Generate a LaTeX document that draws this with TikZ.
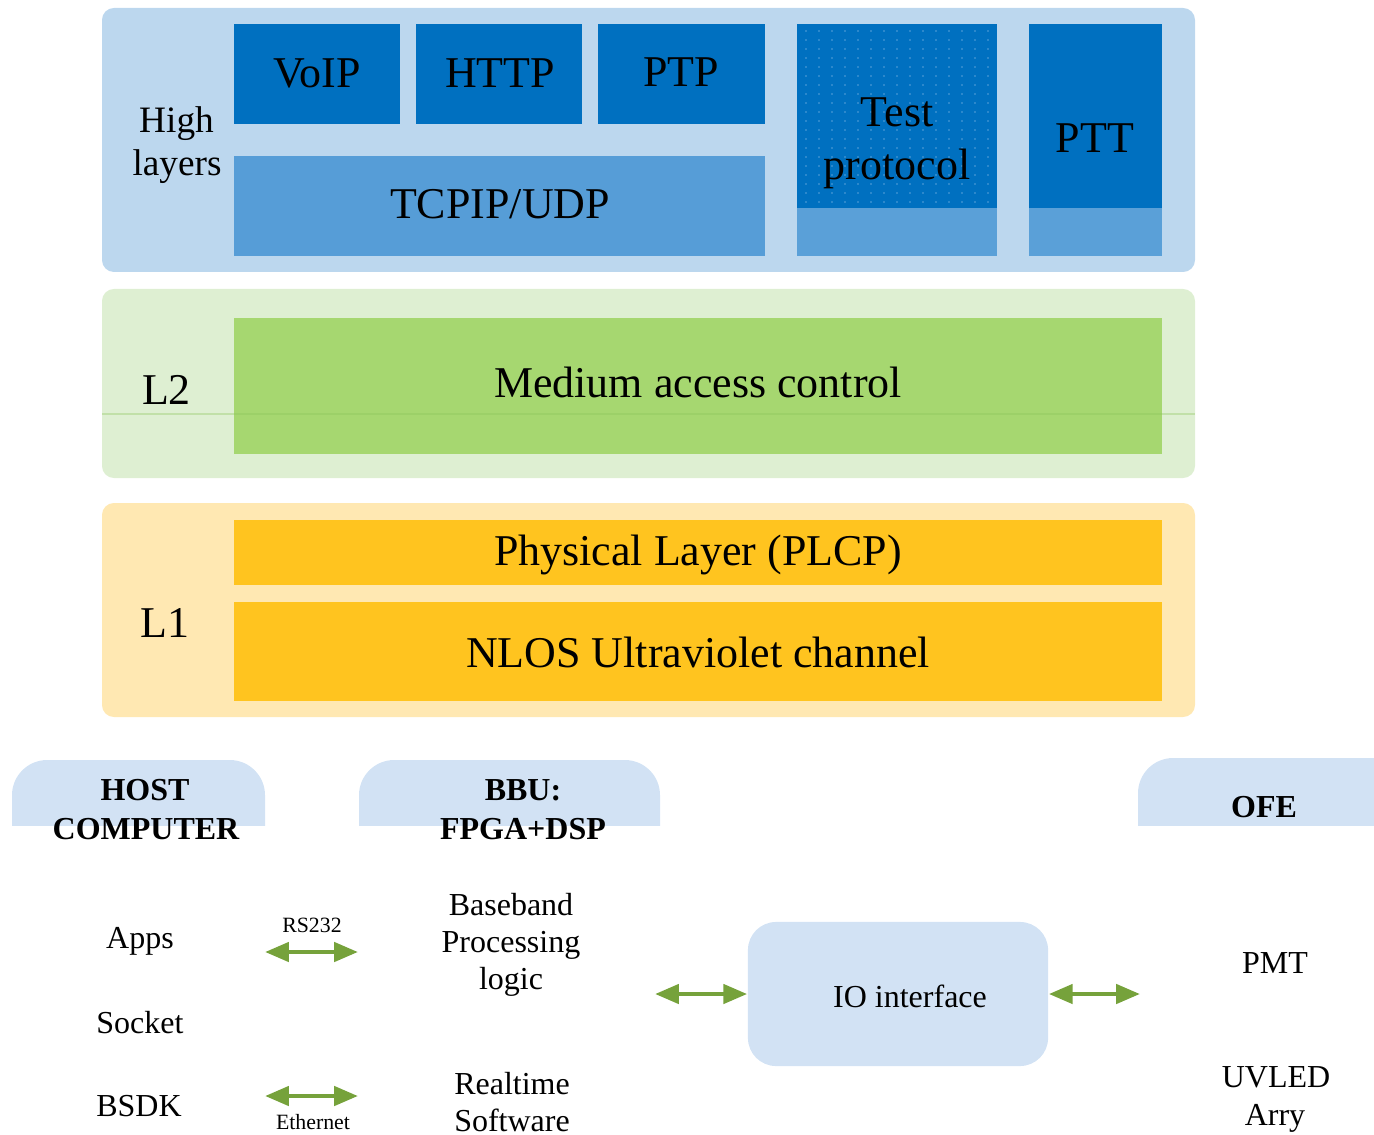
\documentclass[tikz,border=0pt]{standalone}
\usepackage{fontspec}
\setmainfont{Liberation Serif}
\usetikzlibrary{arrows.meta}

\definecolor{hiback}{HTML}{BCD7EE}
\definecolor{dblue}{HTML}{0070C0}
\definecolor{mblue}{HTML}{569DD7}
\definecolor{lband}{HTML}{5AA0D8}
\definecolor{dotblue}{HTML}{6FAEE0}
\definecolor{ltwoback}{HTML}{DEEFD2}
\definecolor{ltwoline}{HTML}{8CC55A}
\definecolor{macgreen}{HTML}{A6D770}
\definecolor{loneback}{HTML}{FFE8B2}
\definecolor{phyorange}{HTML}{FFC41F}
\definecolor{tabblue}{HTML}{D2E2F4}
\definecolor{arrowgreen}{HTML}{76A23B}

\tikzset{
  panel/.style={rounded corners=3.4pt},
  bigtxt/.style={anchor=base, inner sep=0pt, font=\fontsize{12.5}{15}\selectfont},
  midtxt/.style={anchor=base, inner sep=0pt, font=\fontsize{10.6}{12.5}\selectfont},
  smalltxt/.style={anchor=base, inner sep=0pt, font=\fontsize{9.1}{11}\selectfont},
  headtxt/.style={anchor=base, inner sep=0pt, font=\fontsize{9.1}{11}\selectfont\bfseries},
  tinytxt/.style={anchor=base, inner sep=0pt, font=\fontsize{6.2}{7.5}\selectfont},
  iobox/.style={fill=tabblue, rounded corners=8pt, inner sep=0pt, minimum width=3cm, minimum height=1.44cm},
  linkarrow/.style={draw=arrowgreen, line width=1.3pt,
    {Triangle[length=6.8pt,width=5.4pt]}-{Triangle[length=6.8pt,width=5.4pt]}},
}

\begin{document}
\begin{tikzpicture}[x=0.01cm, y=-0.01cm]
\useasboundingbox (0,0) rectangle (1374,1134);
\begin{scope}
\clip (0,0) rectangle (1374,1134);

% ---------- high layers ----------
\fill[hiback, panel] (102,8) rectangle (1195,272);
\fill[dblue] (234,24) rectangle (400,124);
\fill[dblue] (416,24) rectangle (582,124);
\fill[dblue] (598,24) rectangle (765,124);
\fill[mblue] (234,156) rectangle (765,256);
\fill[dblue] (797,24) rectangle (997,208);
\fill[lband] (797,208) rectangle (997,256);
\fill[dblue] (1029,24) rectangle (1162,208);
\fill[lband] (1029,208) rectangle (1162,256);
% dotted texture of the test protocol block
\foreach \dx in {0,...,14} {
  \foreach \dy in {0,...,19} {
    \fill[dotblue, opacity=0.4] (805+13*\dx,30+9*\dy) rectangle ++(1.5,2.5);
  }
}

\node[midtxt] (high)   at (176.5,133) {High};
\node[midtxt] (layers) at (177,176) {layers};
\node[bigtxt] (voip)   at (317,88) {VoIP};
\node[bigtxt] (http)   at (500,88) {HTTP};
\node[bigtxt] (ptp)    at (681,87) {PTP};
\node[bigtxt] (tcpip)  at (500,219) {TCPIP/UDP};
\node[bigtxt] (test)   at (897,127) {Test};
\node[bigtxt] (proto)  at (897,180) {protocol};
\node[bigtxt] (ptt)    at (1095,153) {PTT};

% ---------- L2 ----------
\fill[ltwoback, panel] (102,289) rectangle (1195,478);
\fill[macgreen] (234,318) rectangle (1162,454);
\draw[ltwoline, line width=0.3pt, opacity=0.35] (102,414) -- (1195,414);
\node[bigtxt] (ltwo) at (166.5,405) {L2};
\node[bigtxt] (mac)  at (698,398) {Medium access control};

% ---------- L1 ----------
\fill[loneback, panel] (102,503) rectangle (1195,717);
\fill[phyorange] (234,520) rectangle (1162,585);
\fill[phyorange] (234,602) rectangle (1162,701);
\node[bigtxt] (lone) at (165,637) {L1};
\node[bigtxt] (plcp) at (698,565) {Physical Layer (PLCP)};
\node[bigtxt] (nlos) at (698,667) {NLOS Ultraviolet channel};

% ---------- hardware tabs ----------
\begin{scope}
\clip (0,700) rectangle (1374,825);
\fill[tabblue, rounded corners=10pt] (12,760) rectangle (265,900);
\fill[tabblue, rounded corners=10pt] (359,760) rectangle (660,900);
\fill[tabblue, rounded corners=10pt] (1138,758) rectangle (1430,900);
\end{scope}

\node[headtxt] (host)  at (145,800) {HOST};
\node[headtxt] (comp)  at (146,839) {COMPUTER};
\node[headtxt] (bbu)   at (523,800) {BBU:};
\node[headtxt] (fpga)  at (523,839) {FPGA+DSP};
\node[headtxt] (ofe)   at (1264,817) {OFE};

% ---------- host computer ----------
\node[smalltxt] (apps)   at (140,948) {Apps};
\node[smalltxt] (socket) at (140,1033) {Socket};
\node[smalltxt] (bsdk)   at (139,1116) {BSDK};

% ---------- BBU ----------
\node[smalltxt] (bb1) at (511,915) {Baseband};
\node[smalltxt] (bb2) at (511,952) {Processing};
\node[smalltxt] (bb3) at (511,989) {logic};
\node[smalltxt] (rt1) at (512,1094) {Realtime};
\node[smalltxt] (rt2) at (512,1131) {Software};

% ---------- IO interface ----------
\node[iobox] (io) at (898,994) {};
\node[smalltxt] (iotxt) at (910,1007) {IO interface};

% ---------- OFE ----------
\node[smalltxt] (pmt)   at (1275,973) {PMT};
\node[smalltxt] (uvled) at (1276,1087) {UVLED};
\node[smalltxt] (arry)  at (1275,1125) {Arry};

% ---------- links ----------
\coordinate (rsL) at (265,952);
\coordinate (rsR) at (358,952);
\coordinate (etL) at (265,1096);
\coordinate (etR) at (358,1096);
\coordinate (bbuR) at (655,994);
\coordinate (ofeL) at (1140,994);

\node[tinytxt] (rs232) at (312,932) {RS232};
\node[tinytxt] (ether) at (313,1129) {Ethernet};

\draw[linkarrow] (rsL) -- (rsR);
\draw[linkarrow] (etL) -- (etR);
\draw[linkarrow] (bbuR) -- (io.west);
\draw[linkarrow] (io.east) -- (ofeL);
\end{scope}
\end{tikzpicture}
\end{document}
